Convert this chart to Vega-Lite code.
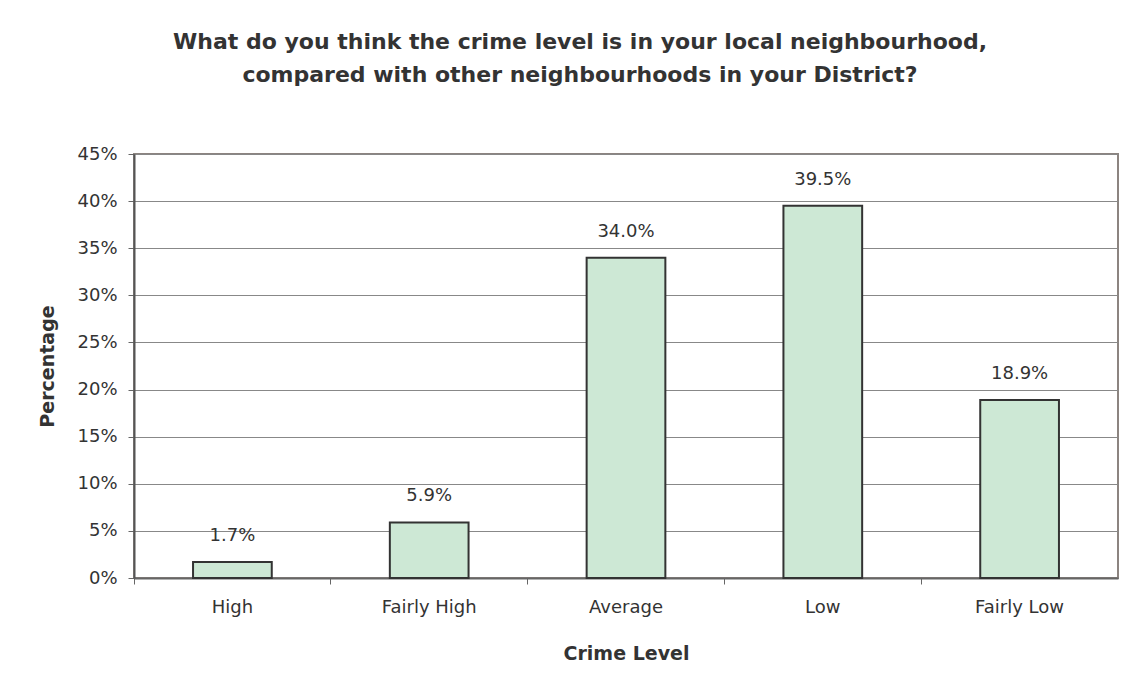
{
  "$schema": "https://vega.github.io/schema/vega-lite/v6.json",
  "width": 984,
  "height": 424,
  "autosize": {"type": "none"},
  "padding": {"left": 134, "top": 154, "right": 10, "bottom": 115},
  "background": "white",
  "config": {
    "font": "DejaVu Sans",
    "view": {"stroke": "#8c8480", "strokeWidth": 2}
  },
  "title": {
    "text": ["What do you think the crime level is in your local neighbourhood,", "compared with other neighbourhoods in your District?"],
    "font": "DejaVu Sans",
    "fontSize": 22,
    "fontWeight": "bold",
    "color": "#333333",
    "anchor": "middle",
    "dx": -46,
    "offset": 58,
    "lineHeight": 33
  },
  "data": {
    "values": [
      {"level": "High", "pct": 0.017},
      {"level": "Fairly High", "pct": 0.059},
      {"level": "Average", "pct": 0.34},
      {"level": "Low", "pct": 0.395},
      {"level": "Fairly Low", "pct": 0.189}
    ]
  },
  "encoding": {
    "x": {
      "field": "level",
      "type": "nominal",
      "sort": null,
      "scale": {"paddingInner": 0, "paddingOuter": 0},
      "axis": {
        "title": "Crime Level",
        "titleFontSize": 19,
        "titleFontWeight": "bold",
        "titleColor": "#333333",
        "titlePadding": 28,
        "labelFontSize": 18,
        "labelColor": "#333333",
        "labelAngle": 0,
        "labelPadding": 14,
        "bandPosition": 0,
        "tickSize": 6,
        "tickColor": "#666666",
        "domainColor": "#666666",
        "domainWidth": 2,
        "grid": false
      }
    },
    "y": {
      "field": "pct",
      "type": "quantitative",
      "scale": {"domain": [0, 0.45], "nice": false},
      "axis": {
        "title": "Percentage",
        "titleFontSize": 19,
        "titleFontWeight": "bold",
        "titleColor": "#333333",
        "titlePadding": 19,
        "values": [0, 0.05, 0.1, 0.15, 0.2, 0.25, 0.3, 0.35, 0.4, 0.45],
        "format": ".0%",
        "labelFontSize": 18,
        "labelColor": "#333333",
        "labelPadding": 11,
        "tickSize": 6,
        "tickColor": "#666666",
        "domainColor": "#555555",
        "domainWidth": 2,
        "grid": true,
        "gridColor": "#888888",
        "gridWidth": 1
      }
    }
  },
  "layer": [
    {
      "mark": {"type": "bar", "width": {"band": 0.4}, "fill": "#cde8d5", "stroke": "#333333", "strokeWidth": 2}
    },
    {
      "mark": {"type": "text", "dy": -26, "baseline": "middle", "fontSize": 18, "color": "#333333"},
      "encoding": {"text": {"field": "pct", "type": "quantitative", "format": ".1%"}}
    }
  ]
}
